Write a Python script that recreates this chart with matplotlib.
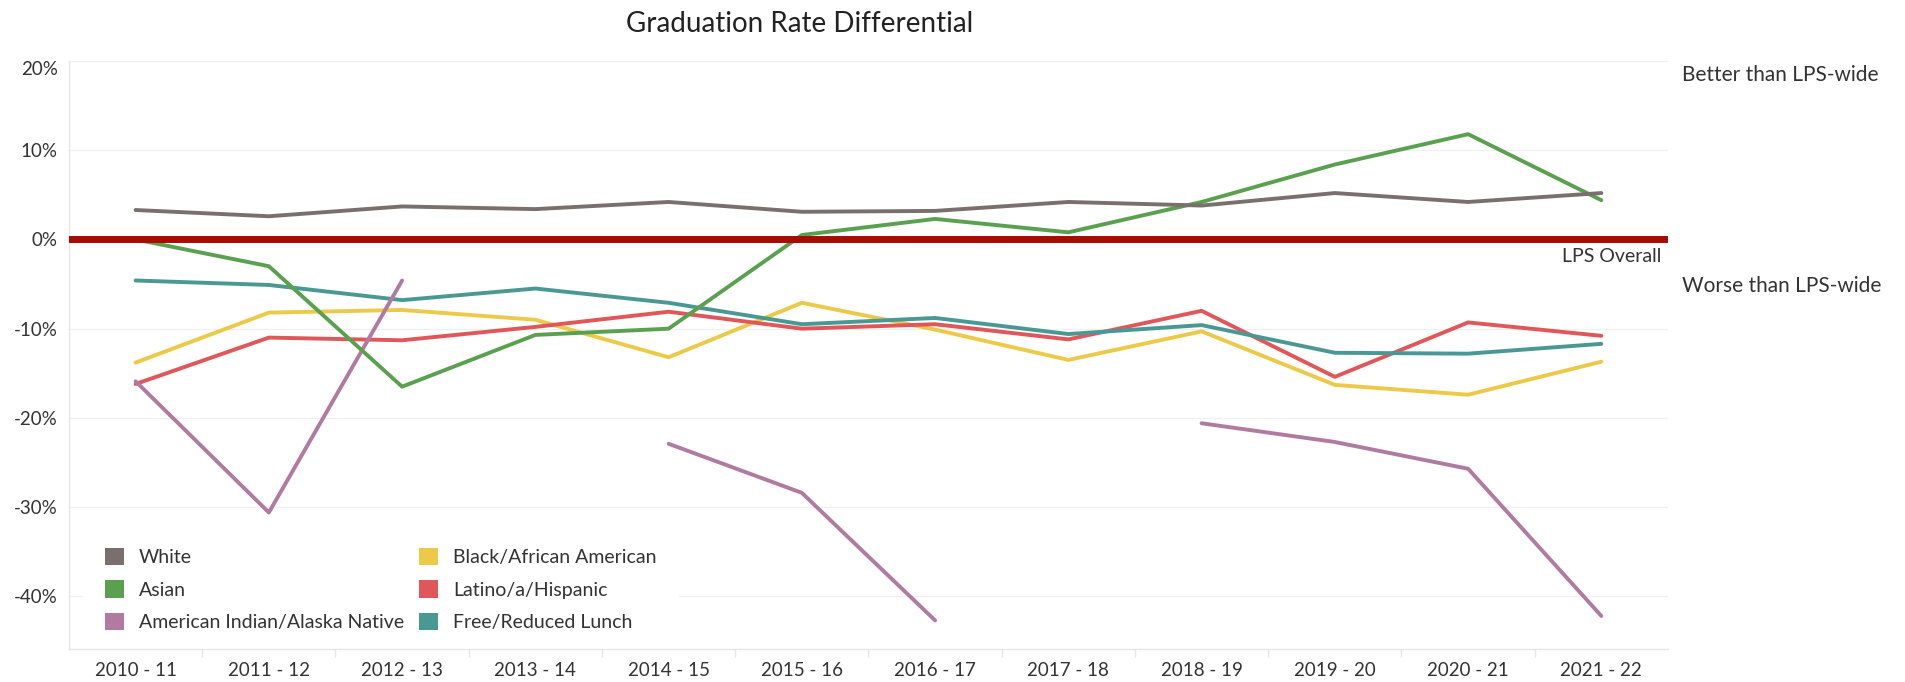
import matplotlib.pyplot as plt
from matplotlib.patches import Rectangle, Patch
from matplotlib.ticker import FixedLocator
import numpy as np

plt.rcParams['font.family'] = ['Lato', 'DejaVu Sans']

# school years on the x axis
years = ['2010 - 11', '2011 - 12', '2012 - 13', '2013 - 14', '2014 - 15', '2015 - 16',
         '2016 - 17', '2017 - 18', '2018 - 19', '2019 - 20', '2020 - 21', '2021 - 22']

# graduation rate minus the district-wide rate, in percentage points
white = [3.3, 2.6, 3.7, 3.4, 4.2, 3.1, 3.2, 4.2, 3.8, 5.2, 4.2, 5.2]
asian = [0.0, -3.0, -16.5, -10.7, -10.0, 0.5, 2.3, 0.8, 4.2, 8.4, 11.8, 4.4]
native = [-15.9, -30.6, -4.6, np.nan, -22.9, -28.4, -42.7, np.nan, -20.6, -22.7, -25.7, -42.2]
black = [-13.8, -8.2, -7.9, -9.0, -13.2, -7.1, -10.1, -13.5, -10.3, -16.3, -17.4, -13.7]
latino = [-16.2, -11.0, -11.3, -9.8, -8.1, -10.0, -9.5, -11.2, -8.0, -15.4, -9.3, -10.8]
lunch = [-4.6, -5.1, -6.8, -5.5, -7.1, -9.5, -8.8, -10.6, -9.6, -12.7, -12.8, -11.7]

series = [
    ('White', white, '#79706e'),
    ('Asian', asian, '#59a14f'),
    ('American Indian/Alaska Native', native, '#b07aa1'),
    ('Black/African American', black, '#edc948'),
    ('Latino/a/Hispanic', latino, '#e15759'),
    ('Free/Reduced Lunch', lunch, '#499894'),
]
draw_order = [3, 4, 5, 2, 1, 0]

yticks = [20, 10, 0, -10, -20, -30, -40]

W, H = 1906, 682
fig = plt.figure(figsize=(W / 100, H / 100), dpi=100)
ax = fig.add_axes([69 / W, (H - 649) / H, 1599 / W, 588 / H])

x = np.arange(len(years))
for i in draw_order:
    name, vals, col = series[i]
    ax.plot(x, vals, color=col, lw=2.8, solid_capstyle='round',
            solid_joinstyle='round', zorder=3)

# district-wide reference line
ax.axhline(0, color='#a80c00', lw=5, zorder=4)
ax.annotate('LPS Overall', xy=(1, 0), xycoords=ax.get_yaxis_transform(),
            xytext=(-5, -6), textcoords='offset points', ha='right', va='top',
            fontsize=14, color='#333333')

ax.set_xlim(-0.5, len(years) - 0.5)
ax.set_ylim(-45.9, 20)

ax.set_xticks(x)
ax.set_xticklabels(years)
ax.xaxis.set_minor_locator(FixedLocator(np.arange(0.5, len(years) - 1, 1)))
ax.tick_params(axis='x', which='major', length=0, pad=9, labelsize=13.5, labelcolor='#333333')
ax.tick_params(axis='x', which='minor', length=6, width=1, color='#e6e6e6')

ax.set_yticks(yticks)
ax.set_yticklabels([f'{v}%' for v in yticks])
ax.tick_params(axis='y', length=0, pad=8, labelsize=13.5, labelcolor='#333333')
ax.get_yticklabels()[0].set_verticalalignment('top')

ax.grid(axis='y', color='#f0f0f0', lw=1)
ax.set_axisbelow(True)
for side in ['top', 'right']:
    ax.spines[side].set_visible(False)
for side in ['left', 'bottom']:
    ax.spines[side].set_color('#e6e6e6')
    ax.spines[side].set_linewidth(1)

# white panel behind the legend
ax.add_patch(Rectangle((0.0088, 0.004), 0.373, 0.215, transform=ax.transAxes,
                       facecolor='white', edgecolor='none', zorder=2))

legend_handles = [Patch(facecolor=c, edgecolor='none') for _, _, c in series]
ax.legend(legend_handles, [s[0] for s in series], ncol=2, loc='upper left',
          bbox_to_anchor=(105 / W, (H - 548) / H), bbox_transform=fig.transFigure,
          frameon=False, fontsize=14, handlelength=1.0, handleheight=1.0,
          handletextpad=0.75, labelspacing=0.72, columnspacing=0.75,
          borderpad=0, borderaxespad=0, labelcolor='#333333')

fig.text(800 / W, 1 - 24 / H, 'Graduation Rate Differential', ha='center', va='center',
         fontsize=20, color='#222222')
fig.text(1682 / W, 1 - 75 / H, 'Better than LPS-wide', ha='left', va='center',
         fontsize=15, color='#333333')
fig.text(1682 / W, 1 - 286 / H, 'Worse than LPS-wide', ha='left', va='center',
         fontsize=15, color='#333333')

fig.savefig('out.png', dpi=100)
